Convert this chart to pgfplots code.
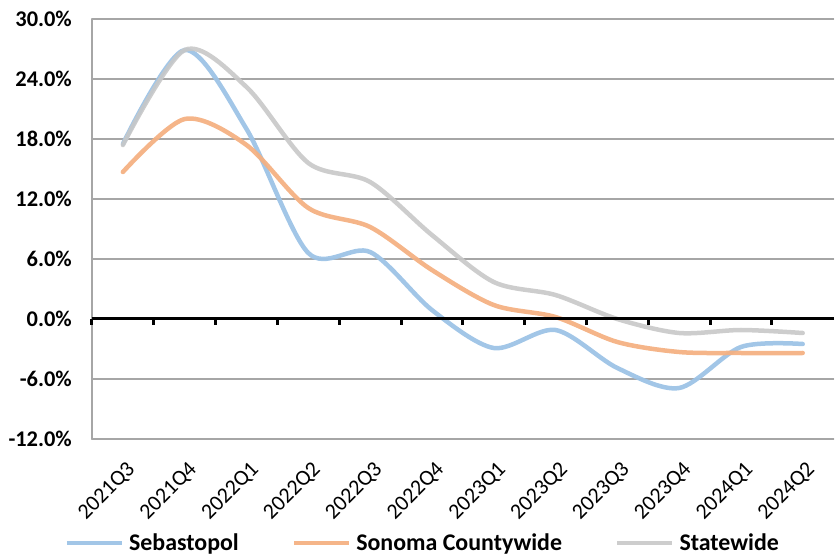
\documentclass[border=0pt]{standalone}
\usepackage{pgfplots}
\pgfplotsset{compat=1.18}
\usepackage{fontspec}
\setmainfont{Carlito}
\definecolor{cblue}{RGB}{157,195,230}
\definecolor{corange}{RGB}{244,177,131}
\definecolor{cgray}{RGB}{200,200,200}
\definecolor{cgrid}{RGB}{166,166,166}
\begin{document}
\begin{tikzpicture}[x=1bp,y=1bp]
\begin{axis}[
  at={(0,0)}, anchor=south west,
  scale only axis,
  width=741.6bp, height=420bp,
  xmin=-0.5, xmax=11.5,
  ymin=-12, ymax=30,
  axis x line=none,
  axis y line*=left,
  y axis line style={draw=cgrid, line width=1.2bp},
  ytick={-12,-6,0,6,12,18,24,30},
  yticklabels={-12.0\%,-6.0\%,0.0\%,6.0\%,12.0\%,18.0\%,24.0\%,30.0\%},
  yticklabel style={font=\fontsize{22.5}{27}\selectfont\bfseries, inner sep=0pt, xshift=-20bp},
  ytick style={draw=cgrid, line width=1.2bp},
  major tick length=6bp,
  ymajorgrids,
  grid style={draw=cgrid, line width=1.2bp},
  clip=false,
  legend columns=3,
  legend style={draw=none, fill=none, at={(0.446,-0.2476)}, anchor=center,
    font=\fontsize{24}{28}\selectfont\bfseries,
    /tikz/every even column/.append style={column sep=51bp}},
  legend image code/.code={\draw[#1, line width=4.5bp] (0bp,0bp) -- (55bp,0bp); \path (58bp,0bp);},
  line cap=round,
]
\draw[cgrid, line width=1.2bp] (axis cs:-0.5,-12) -- (axis cs:11.5,-12);
\addplot[cblue, line width=4.5bp, smooth, tension=0.5, opacity=0.95] coordinates {
 (0,17.5) (1,26.9) (2,19.0) (3,6.6) (4,6.7) (5,0.9) (6,-2.9) (7,-1.1) (8,-4.9) (9,-6.9) (10,-2.8) (11,-2.5)};
\addlegendentry{Sebastopol}
\addplot[corange, line width=4.5bp, smooth, tension=0.5, opacity=0.95] coordinates {
 (0,14.7) (1,20.0) (2,17.4) (3,11.1) (4,9.2) (5,4.9) (6,1.4) (7,0.2) (8,-2.3) (9,-3.3) (10,-3.4) (11,-3.4)};
\addlegendentry{Sonoma Countywide}
\addplot[cgray, line width=4.5bp, smooth, tension=0.5, opacity=0.9] coordinates {
 (0,17.4) (1,26.9) (2,23.2) (3,15.6) (4,13.7) (5,8.4) (6,3.7) (7,2.4) (8,0.0) (9,-1.4) (10,-1.1) (11,-1.4)};
\addlegendentry{Statewide}
\draw[black, line width=3bp, line cap=butt] (axis cs:-0.5,0) -- (axis cs:11.5,0);
\pgfplotsinvokeforeach{-0.5,0.5,1.5,2.5,3.5,4.5,5.5,6.5,7.5,8.5,9.5,10.5}{
  \draw[black, line width=3bp, line cap=butt] (axis cs:#1,0) -- ++(0bp,-6bp);
}
\foreach \i/\lab in {0/2021Q3,1/2021Q4,2/2022Q1,3/2022Q2,4/2022Q3,5/2022Q4,6/2023Q1,7/2023Q2,8/2023Q3,9/2023Q4,10/2024Q1,11/2024Q2}{
  \edef\tmp{\noexpand\node[rotate=45, anchor=north east, inner sep=0pt, font=\noexpand\fontsize{22}{26}\noexpand\selectfont] at (axis cs:\i,-12) [yshift=-17bp, xshift=-13bp] {\lab};}\tmp
}
\end{axis}
\path[use as bounding box] (-92bp,-117bp) rectangle (747bp,439bp);
\end{tikzpicture}
\end{document}
